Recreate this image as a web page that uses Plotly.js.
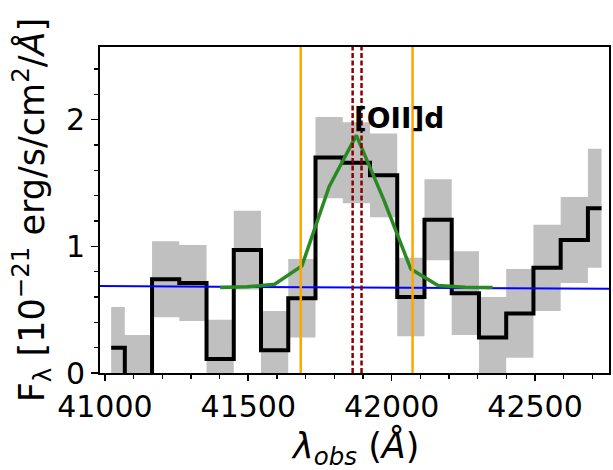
<!DOCTYPE html>
<html>
<head>
<meta charset="utf-8">
<script src="https://cdn.plot.ly/plotly-3.0.1.min.js"></script>
<style>html,body{margin:0;padding:0;background:#fff;}#chart{width:613px;height:470px;}</style>
</head>
<body>
<div id="chart"></div>
<script>
// Observed spectrum: bin centres (Å), flux and 1-sigma error (1e-21 erg/s/cm2/Å)
const wave = [41022, 41117, 41212, 41307, 41402, 41497, 41592, 41687, 41782, 41877,
              41972, 42067, 42162, 42257, 42352, 42447, 42542, 42637, 42732];
const flux = [0.20, -0.05, 0.74, 0.71, 0.11, 0.97, 0.18, 0.59, 1.70, 1.66,
              1.56, 0.60, 1.21, 0.63, 0.28, 0.47, 0.83, 1.05, 1.30];
const err  = [0.32, 0.35, 0.30, 0.30, 0.31, 0.31, 0.31, 0.31, 0.32, 0.32,
              0.33, 0.31, 0.32, 0.33, 0.32, 0.35, 0.34, 0.34, 0.47];

// Gaussian line model
const modelWave = [41402, 41497, 41592, 41687, 41782, 41877, 41972, 42067, 42162, 42257, 42352];
const modelFlux = [0.674, 0.68, 0.70, 0.845, 1.47, 1.876, 1.37, 0.82, 0.69, 0.676, 0.674];

// Continuum
const contWave = [40900, 42850];
const contFlux = [0.687, 0.664];

// Line window edges and [OII] doublet positions
const windowEdges = [41683, 42073];
const lineCenters = [41864, 41895];
const lineLabel = "[OII]d";
const lineLabelY = 2.01;

// Axis ticks
const xTickVals = [41000, 41500, 42000, 42500];
const xTickText = ["41000", "41500", "42000", "42500"];
const yTickVals = [0, 1, 2];
const yTickText = ["0", "1", "2"];

const yMax = 2.573;
const upper = flux.map((v, i) => v + err[i]);
const lower = flux.map((v, i) => v - err[i]);

const traces = [
  {x: wave, y: lower, mode: 'lines', line: {shape: 'hvh', width: 0, color: 'rgba(0,0,0,0)'},
   hoverinfo: 'skip', showlegend: false},
  {x: wave, y: upper, mode: 'lines', line: {shape: 'hvh', width: 0, color: 'rgba(0,0,0,0)'},
   fill: 'tonexty', fillcolor: '#c0c0c0', hoverinfo: 'skip', showlegend: false},
  {x: wave, y: flux, mode: 'lines', line: {shape: 'hvh', width: 4, color: '#000000'}, showlegend: false},
  {x: contWave, y: contFlux, mode: 'lines', line: {width: 2, color: '#0000ff'}, showlegend: false},
  {x: modelWave, y: modelFlux, mode: 'lines', line: {width: 3.5, color: '#2a8a22'}, showlegend: false}
];

windowEdges.forEach(w => traces.push({x: [w, w], y: [0, yMax], mode: 'lines',
  line: {width: 2.5, color: '#ffa500'}, showlegend: false}));
lineCenters.forEach(w => traces.push({x: [w, w], y: [0, yMax], mode: 'lines',
  line: {width: 2.5, color: '#8b0000', dash: '5px,2.5px'}, showlegend: false}));

const font = {family: 'DejaVu Sans, sans-serif', size: 30, color: '#000'};
const labelFont = {family: 'DejaVu Sans, sans-serif', size: 35, color: '#000'};

const layout = {
  width: 613, height: 470,
  margin: {l: 100, r: 4, t: 47, b: 97, pad: 0},
  paper_bgcolor: '#fff', plot_bgcolor: '#fff',
  font: font,
  xaxis: {
    range: [40983, 42758], tickvals: xTickVals, ticktext: xTickText,
    ticks: 'outside', ticklen: 6, tickwidth: 1.6, tickcolor: '#000',
    minor: {dtick: 100, tick0: 41000, ticks: 'outside', ticklen: 4, tickwidth: 1.2, tickcolor: '#000'},
    showline: true, linecolor: '#000', linewidth: 2, mirror: true,
    showgrid: false, zeroline: false, tickfont: font
  },
  yaxis: {
    range: [0, yMax], tickvals: yTickVals, ticktext: yTickText,
    ticks: 'outside', ticklen: 7, tickwidth: 1.6, tickcolor: '#000',
    minor: {dtick: 0.2, tick0: 0, ticks: 'outside', ticklen: 4, tickwidth: 1.2, tickcolor: '#000'},
    showline: true, linecolor: '#000', linewidth: 2, mirror: true,
    showgrid: false, zeroline: false, tickfont: font
  },
  annotations: [
    {x: lineCenters[0], y: lineLabelY, xref: 'x', yref: 'y', text: '<b>' + lineLabel + '</b>',
     showarrow: false, xanchor: 'left', yanchor: 'middle', xshift: -1,
     font: {family: 'DejaVu Sans, sans-serif', size: 28, color: '#000'}},
    {x: 0.5, y: -0.23, xref: 'paper', yref: 'paper', showarrow: false,
     xanchor: 'center', yanchor: 'middle',
     text: '<i>λ<sub>obs</sub></i> (<i>Å</i>)', font: labelFont},
    {x: -0.135, y: 0.5, xref: 'paper', yref: 'paper', showarrow: false, textangle: -90,
     xanchor: 'center', yanchor: 'middle',
     text: 'F<sub>λ</sub> [10<sup>−21</sup> erg/s/cm<sup>2</sup>/<i>Å</i>]', font: labelFont}
  ]
};

Plotly.newPlot('chart', traces, layout, {displayModeBar: false, staticPlot: true});
</script>
</body>
</html>
